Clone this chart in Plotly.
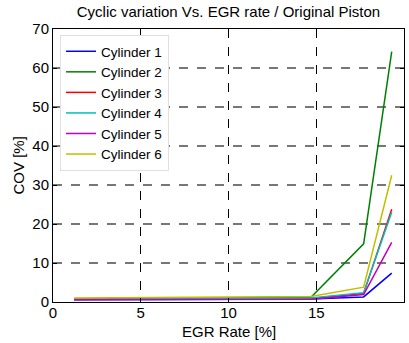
import plotly.graph_objects as go

egr = [1.2, 14.7, 17.7, 19.3]
cyl1 = [0.6, 0.8, 1.3, 7.4]
cyl2 = [0.7, 1.2, 14.9, 64.2]
cyl3 = [0.7, 0.9, 2.2, 23.8]
cyl4 = [0.7, 1.0, 2.4, 23.0]
cyl5 = [0.6, 0.7, 1.9, 15.3]
cyl6 = [1.0, 1.4, 3.8, 32.5]
names = ["Cylinder 1", "Cylinder 2", "Cylinder 3", "Cylinder 4", "Cylinder 5", "Cylinder 6"]
colors = ["#0000ff", "#008000", "#ff0000", "#00bfbf", "#bf00bf", "#bfbf00"]
series = [cyl1, cyl2, cyl3, cyl4, cyl5, cyl6]

fig = go.Figure()
for n, c, s in zip(names, colors, series):
    fig.add_trace(go.Scatter(x=egr, y=s, mode="lines", name=n,
                             line=dict(color=c, width=1.5)))

fam = "Liberation Sans, Arial, sans-serif"
font = dict(family=fam, size=15, color="black")
fig.update_layout(
    width=409, height=343,
    margin=dict(l=53, r=5, t=29, b=41, autoexpand=False),
    paper_bgcolor="white", plot_bgcolor="white",
    font=font,
    title=dict(text="Cyclic variation Vs. EGR rate / Original Piston",
               x=0.5, xref="paper", xanchor="center", y=1 - 12 / 343,
               yref="container", yanchor="middle",
               font=dict(size=15, family=fam, color="black")),
    showlegend=True,
    legend=dict(x=0.02, y=0.978, xanchor="left", yanchor="top",
                bgcolor="white", bordercolor="#e0e0e0", borderwidth=1,
                font=dict(size=13.5, family=fam),
                tracegroupgap=0, itemwidth=30),
    xaxis=dict(range=[0, 20], tickvals=[0, 5, 10, 15, 20], showgrid=True,
               gridcolor="black", griddash="dash", gridwidth=1,
               showline=True, linecolor="black", linewidth=1, mirror="ticks",
               ticks="inside", ticklen=4, tickcolor="black", zeroline=False,
               ticklabelstandoff=-3, automargin=False),
    yaxis=dict(range=[0, 70], tickvals=[0, 10, 20, 30, 40, 50, 60, 70], showgrid=True,
               gridcolor="#777777", griddash="dash", gridwidth=1.5,
               showline=True, linecolor="black", linewidth=1, mirror="ticks",
               ticks="inside", ticklen=4, tickcolor="black", zeroline=False,
               automargin=False),
    annotations=[
        dict(text="EGR Rate [%]", xref="paper", yref="paper", x=0.5, y=-29 / 273,
             xanchor="center", yanchor="middle", showarrow=False,
             font=dict(size=15, family=fam, color="black")),
        dict(text="COV [%]", xref="paper", yref="paper", x=-35 / 351, y=0.5,
             xanchor="center", yanchor="middle", textangle=-90, showarrow=False,
             font=dict(size=15, family=fam, color="black")),
    ],
)
fig.write_html("out.html", config={"displayModeBar": False},
               post_script="document.body.style.margin='0';")
